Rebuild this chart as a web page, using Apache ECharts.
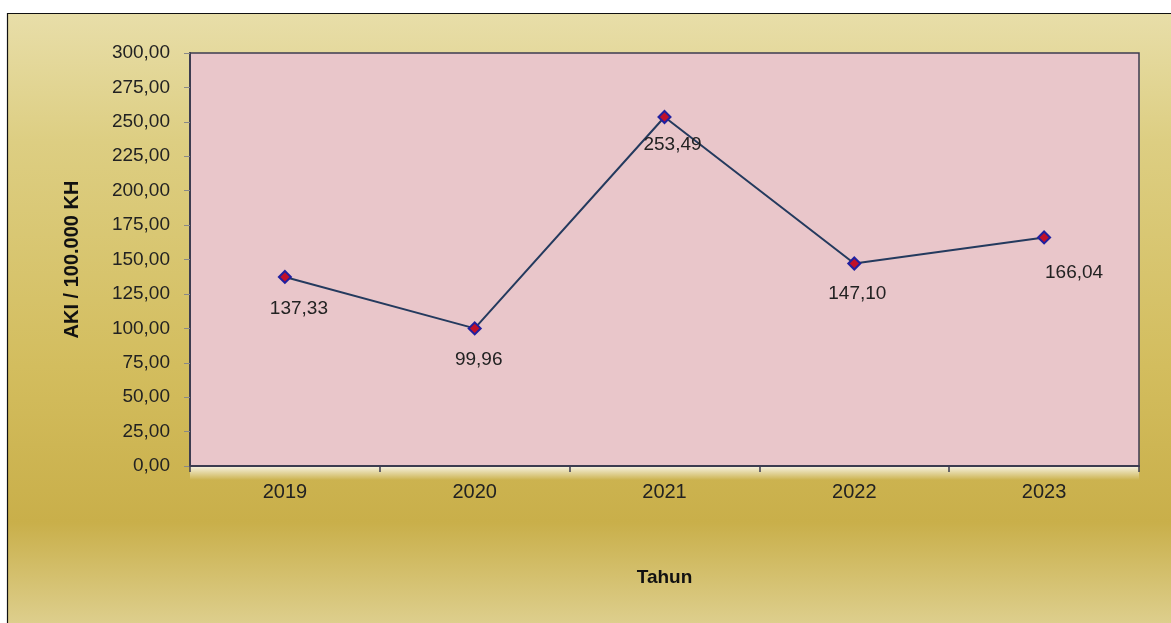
<!DOCTYPE html>
<html>
<head>
<meta charset="utf-8">
<script src="https://cdn.jsdelivr.net/npm/echarts@6/dist/echarts.min.js"></script>
<style>
html,body{margin:0;padding:0;background:#fff;}
#chart{width:1171px;height:623px;}
</style>
</head>
<body>
<div id="chart"></div>
<script>
const years = ['2019', '2020', '2021', '2022', '2023'];
const akiValues = [137.33, 99.96, 253.49, 147.10, 166.04];
const yTicks = { min: 0, max: 300, interval: 25 };
const yAxisName = 'AKI / 100.000 KH';
const xAxisName = 'Tahun';
// label nudges (pixels, from the marker centre) per point, kept apart from the data
const labelNudge = [[14, 32], [4, 31], [8, 28], [3, 30], [30, 35]];

const fmt = v => v.toFixed(2).replace('.', ',');
const grid = { left: 190, right: 32, top: 53, bottom: 157 };
const W = 1171, H = 623;

const chart = echarts.init(document.getElementById('chart'), null, { renderer: 'canvas' });

const seriesData = akiValues.map((v, i) => ({
  value: v,
  label: { offset: labelNudge[i] }
}));

chart.setOption({
  animation: false,
  textStyle: { fontFamily: 'Liberation Sans, Arial, sans-serif' },
  graphic: [
    {
      type: 'rect', z: -10, silent: true,
      shape: { x: 7.5, y: 13.5, width: W + 20, height: H + 20 },
      style: {
        fill: new echarts.graphic.LinearGradient(0, 0, 0, 1, [
          { offset: 0, color: '#e8dea9' },
          { offset: 0.2, color: '#ddce82' },
          { offset: 0.55, color: '#d3bd5e' },
          { offset: 0.79, color: '#c9af4a' },
          { offset: 1, color: '#e4d9a3' }
        ]),
        stroke: '#111', lineWidth: 1.2
      }
    },
    {
      type: 'rect', z: -9, silent: true,
      shape: { x: grid.left, y: H - grid.bottom, width: W - grid.left - grid.right, height: 14 },
      style: {
        fill: new echarts.graphic.LinearGradient(0, 0, 0, 1, [
          { offset: 0, color: 'rgba(255,255,255,0.85)' },
          { offset: 1, color: 'rgba(255,255,255,0)' }
        ])
      }
    }
  ],
  grid: {
    left: grid.left, right: grid.right, top: grid.top, bottom: grid.bottom,
    show: true, backgroundColor: '#e9c6ca', borderColor: '#3c3c50', borderWidth: 1.5
  },
  xAxis: {
    type: 'category',
    data: years,
    boundaryGap: true,
    name: xAxisName,
    nameLocation: 'middle',
    nameGap: 102,
    nameTextStyle: { fontSize: 19, fontWeight: 'bold', color: '#111' },
    axisLine: { lineStyle: { color: '#3c3c50', width: 2 } },
    axisTick: { show: true, length: 6, lineStyle: { color: '#3c3c50', width: 1.5 } },
    axisLabel: { fontSize: 20, color: '#222', margin: 16 },
    splitLine: { show: false }
  },
  yAxis: {
    type: 'value',
    min: yTicks.min, max: yTicks.max, interval: yTicks.interval,
    name: yAxisName,
    nameLocation: 'middle',
    nameGap: 108,
    nameRotate: 90,
    nameTextStyle: { fontSize: 20, fontWeight: 'bold', color: '#111' },
    axisLine: { show: true, lineStyle: { color: '#3c3c50', width: 2 } },
    axisTick: { show: true, length: 6, lineStyle: { color: '#888', width: 1 } },
    axisLabel: { fontSize: 19, color: '#222', margin: 20, formatter: v => fmt(v) },
    splitLine: { show: false }
  },
  series: [{
    type: 'line',
    data: seriesData,
    symbol: 'diamond',
    symbolSize: 12,
    lineStyle: { color: '#243a5e', width: 2 },
    itemStyle: { color: '#c0102a', borderColor: '#2020a0', borderWidth: 2 },
    label: {
      show: true,
      position: 'inside',
      fontSize: 19,
      color: '#222',
      formatter: p => fmt(p.value)
    }
  }]
});
</script>
</body>
</html>
